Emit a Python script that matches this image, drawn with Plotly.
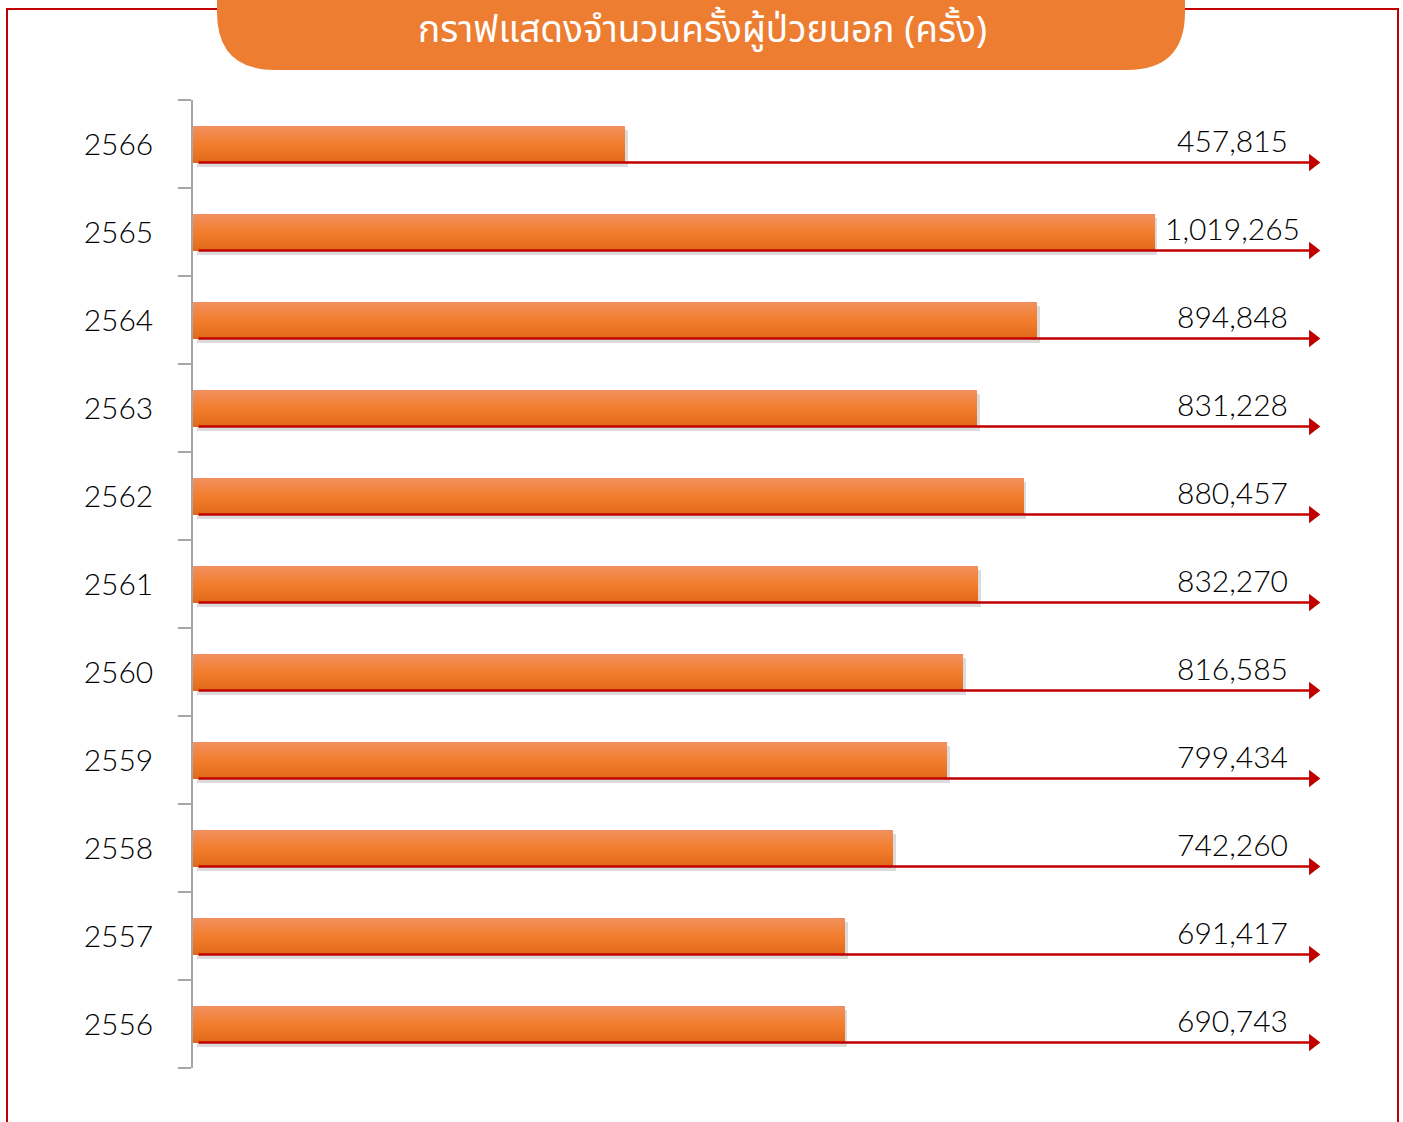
import plotly.graph_objects as go

# ---------------- data ----------------
YEARS = ["2566", "2565", "2564", "2563", "2562", "2561", "2560", "2559", "2558", "2557", "2556"]
VALUES = [457815, 1019265, 894848, 831228, 880457, 832270, 816585, 799434, 742260, 691417, 690743]
TITLE = "กราฟแสดงจำนวนครั้งผู้ป่วยนอก (ครั้ง)"

# ---------------- layout constants ----------------
W, H = 1403, 1122
L, R, T, B = 193, 5, 100, 54
PW, PH = W - L - R, H - T - B
PX_PER_UNIT = 1060.0
XMAX = PW * PX_PER_UNIT
BAR_W = 0.42
ARROW_START = 6000
ARROW_END = 1_196_000
LABEL_CX = 1232  # px, centre of value labels

pos = list(range(len(YEARS)))

def px2paper(px, py):
    return (px - L) / PW, (H - B - py) / PH

def hexmix(c1, c2, t):
    a = [int(c1[i:i + 2], 16) for i in (1, 3, 5)]
    b = [int(c2[i:i + 2], 16) for i in (1, 3, 5)]
    return "#%02x%02x%02x" % tuple(round(a[k] + (b[k] - a[k]) * t) for k in range(3))

fig = go.Figure()

# shadow
fig.add_trace(go.Bar(
    y=pos, x=[v - 1500 for v in VALUES], base=4500, orientation="h",
    width=BAR_W, offset=-BAR_W / 2 + 0.05,
    marker=dict(color="rgba(0,0,0,0.14)", line=dict(width=0)),
    hoverinfo="skip", showlegend=False))

# gradient bar built from horizontal strips
N = 14
top_c, mid_c, bot_c = "#F18F5C", "#F37F2E", "#E4691B"
sw = BAR_W / N
for k in range(N):
    t = k / (N - 1)
    col = hexmix(top_c, mid_c, t * 2) if t < 0.5 else hexmix(mid_c, bot_c, (t - 0.5) * 2)
    fig.add_trace(go.Bar(
        y=pos, x=VALUES, orientation="h",
        width=sw * 1.05, offset=-BAR_W / 2 + k * sw,
        marker=dict(color=col, line=dict(width=0)),
        hoverinfo="skip", showlegend=False))

# red arrows at bottom of each bar
for i, v in zip(pos, VALUES):
    yb = i + BAR_W / 2
    fig.add_trace(go.Scatter(
        x=[ARROW_START, ARROW_END - 9000], y=[yb, yb], mode="lines",
        line=dict(color="#C00000", width=2.5), hoverinfo="skip", showlegend=False))
    fig.add_trace(go.Scatter(
        x=[ARROW_END - 9000], y=[yb], mode="markers",
        marker=dict(symbol="triangle-right", size=15, color="#C00000", line=dict(width=0)),
        hoverinfo="skip", showlegend=False))
    fig.add_annotation(
        x=(LABEL_CX - L) * PX_PER_UNIT, y=yb, xanchor="center", yanchor="bottom",
        yshift=2, text=f"{v:,}", showarrow=False,
        font=dict(size=30, color="#000000", family="Lato, Open Sans, sans-serif", weight=300))

# frame and title box
shapes = []
x0, y0 = px2paper(7, 9)
x1, y1 = px2paper(1398, 1140)
shapes.append(dict(type="rect", xref="paper", yref="paper", x0=x0, y0=y1, x1=x1, y1=y0,
                   line=dict(color="#C00000", width=2), fillcolor="rgba(0,0,0,0)", layer="above"))

bl, br, bb, bt, r = 217, 1185, 70, -20, 58
def P(px, py):
    a, b = px2paper(px, py)
    return f"{a:.5f},{b:.5f}"
path = (f"M {P(bl, bt)} L {P(bl, bb - r)} Q {P(bl, bb)} {P(bl + r, bb)} "
        f"L {P(br - r, bb)} Q {P(br, bb)} {P(br, bb - r)} L {P(br, bt)} Z")
shapes.append(dict(type="path", xref="paper", yref="paper", path=path,
                   fillcolor="#ED7D31", line=dict(width=0), layer="above"))

tx, ty = px2paper(702, 31)
fig.add_annotation(xref="paper", yref="paper", x=tx, y=ty, xanchor="center", yanchor="middle",
                   text=TITLE, showarrow=False,
                   font=dict(size=37, color="white", family="Noto Sans Thai, Noto Sans, sans-serif"))

fig.update_layout(
    width=W, height=H, margin=dict(l=L, r=R, t=T, b=B),
    paper_bgcolor="white", plot_bgcolor="white",
    barmode="overlay", bargap=0, shapes=shapes,
    xaxis=dict(range=[0, XMAX], visible=False, fixedrange=True),
    yaxis=dict(range=[len(YEARS) - 0.5, -0.5], tickmode="array", tickvals=pos, ticktext=YEARS,
               ticks="", showgrid=False, zeroline=False, fixedrange=True,
               showline=True, linecolor="#A6A6A6", linewidth=1.5,
               tickfont=dict(size=30, color="#000000", family="Lato, Open Sans, sans-serif", weight=300),
               ticklabelstandoff=32,
               minor=dict(tickmode="array", tickvals=[p - 0.5 for p in pos] + [len(YEARS) - 0.5],
                          ticks="outside", ticklen=13, tickcolor="#A6A6A6", tickwidth=1.5,
                          showgrid=False)),
    showlegend=False,
)

fig.write_html("out.html", config={"displayModeBar": False},
               post_script="document.body.style.margin='0';document.body.style.overflow='hidden';")
